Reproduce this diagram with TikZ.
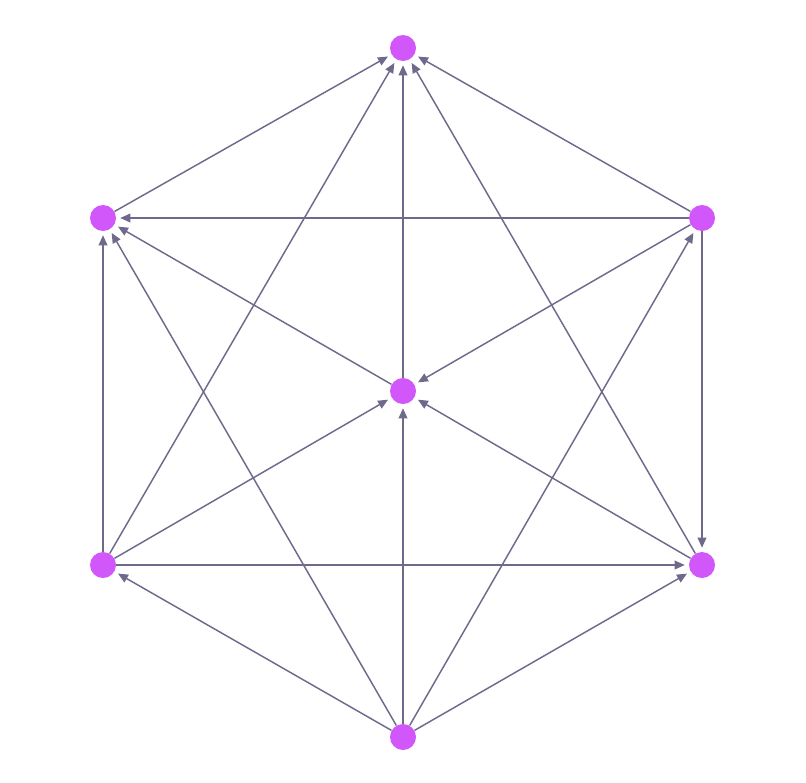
\documentclass[tikz,border=0pt]{standalone}
\usetikzlibrary{arrows.meta}
\definecolor{nodecol}{HTML}{D257FA}
\definecolor{edgecol}{HTML}{6E6A8C}
\begin{document}
\begin{tikzpicture}[x=0.75pt,y=-0.75pt,
  vtx/.style={circle,fill=nodecol,draw=none,minimum size=19.5pt,inner sep=0pt},
  edge/.style={draw=edgecol,line width=1.1pt,-{Triangle[length=7.5pt,width=6.5pt]},shorten >=3pt}]
\useasboundingbox (0,0) rectangle (806,782);
\node[vtx] (T) at (403,48) {};
\node[vtx] (UL) at (103,218) {};
\node[vtx] (UR) at (702,218) {};
\node[vtx] (C) at (403,391) {};
\node[vtx] (LL) at (103,565) {};
\node[vtx] (LR) at (702,565) {};
\node[vtx] (B) at (403,737) {};
\draw[edge] (UL) -- (T);
\draw[edge] (LL) -- (T);
\draw[edge] (C) -- (T);
\draw[edge] (LR) -- (T);
\draw[edge] (UR) -- (T);
\draw[edge] (UR) -- (UL);
\draw[edge] (C) -- (UL);
\draw[edge] (LL) -- (UL);
\draw[edge] (B) -- (UL);
\draw[edge] (UR) -- (C);
\draw[edge] (LL) -- (C);
\draw[edge] (B) -- (C);
\draw[edge] (LR) -- (C);
\draw[edge] (UR) -- (LR);
\draw[edge] (LL) -- (LR);
\draw[edge] (B) -- (LR);
\draw[edge] (B) -- (LL);
\draw[edge] (B) -- (UR);
\end{tikzpicture}
\end{document}
